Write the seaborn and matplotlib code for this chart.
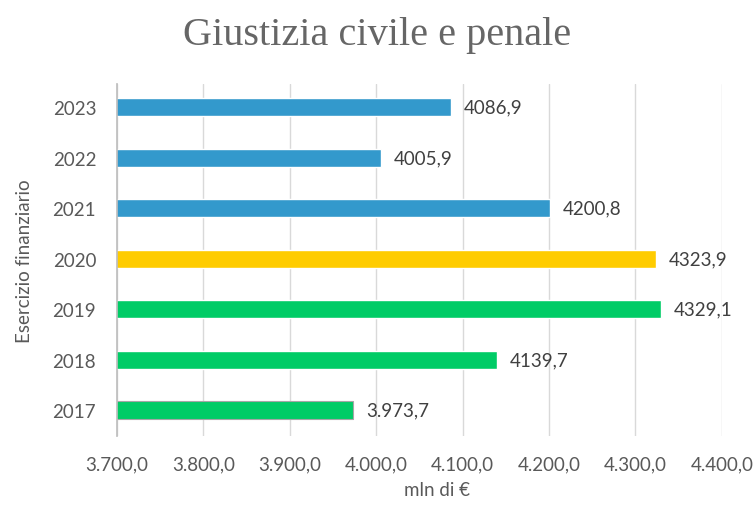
import matplotlib
matplotlib.use("Agg")
import matplotlib.pyplot as plt
import pandas as pd
import seaborn as sns
from matplotlib.ticker import FuncFormatter

# dati
anni = ["2023", "2022", "2021", "2020", "2019", "2018", "2017"]
valori = [4086.9, 4005.9, 4200.8, 4323.9, 4329.1, 4139.7, 3973.7]
etichette = ["4086,9", "4005,9", "4200,8", "4323,9", "4329,1", "4139,7", "3.973,7"]
colori = ["#3399CC", "#3399CC", "#3399CC", "#FFCC00", "#00CC66", "#00CC66", "#00CC66"]
tick_x = [3700, 3800, 3900, 4000, 4100, 4200, 4300, 4400]

df = pd.DataFrame({"anno": anni, "valore": valori})

sns.set_theme(style="white")
plt.rcParams["font.family"] = ["Lato", "DejaVu Sans"]

fig = plt.figure(figsize=(7.55, 5.1), dpi=100)
ax = fig.add_axes([0.155, 0.143, 0.801, 0.690])

sns.barplot(data=df, x="valore", y="anno", hue="anno", order=anni,
            palette=dict(zip(anni, colori)), width=0.35, legend=False,
            ax=ax, saturation=1)

# il 2017 ha un bordo grigio sottile
ax.patches[-1].set_edgecolor("#A6A6A6")
ax.patches[-1].set_linewidth(0.8)

for i, (v, lab) in enumerate(zip(valori, etichette)):
    ax.text(v + 15, i, lab, va="center", ha="left", fontsize=13.5, color="#404040")

ax.set_xlim(3700, 4400)
ax.set_ylim(6.51, -0.455)
ax.set_xticks(tick_x)
ax.xaxis.set_major_formatter(FuncFormatter(
    lambda x, p: f"{x:,.1f}".replace(",", "X").replace(".", ",").replace("X", ".")))
ax.grid(axis="x", color="#D9D9D9", linewidth=1)
ax.set_axisbelow(True)
for s in ["top", "right", "bottom"]:
    ax.spines[s].set_visible(False)
ax.spines["left"].set_color("#BFBFBF")
ax.tick_params(axis="both", length=0, labelsize=13.5, labelcolor="#595959")
ax.tick_params(axis="x", pad=14)
ax.tick_params(axis="y", pad=15)

ax.set_xlabel("mln di €", fontsize=13.5, color="#595959")
ax.set_ylabel("Esercizio finanziario", fontsize=13.5, color="#595959")
ax.xaxis.set_label_coords(0.529, -0.128)
ax.yaxis.set_label_coords(-0.139, 0.5)

fig.text(0.5, 0.912, "Giustizia civile e penale", ha="center", va="baseline",
         fontsize=29, color="#666666", family=["Liberation Serif", "DejaVu Serif"])

fig.savefig("out.png", dpi=100)
